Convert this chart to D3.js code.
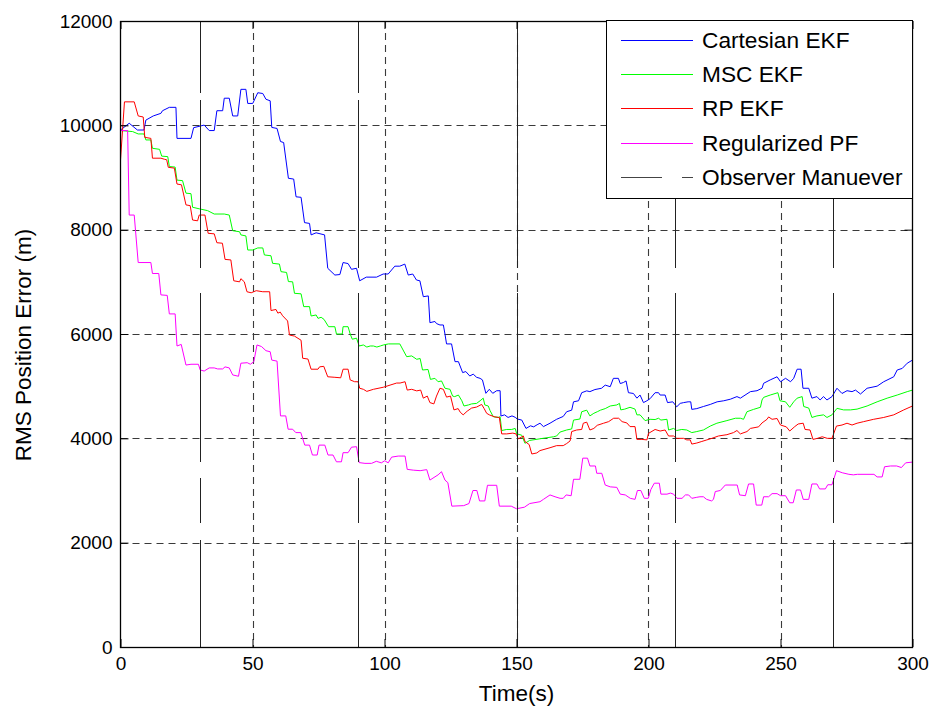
<!DOCTYPE html>
<html>
<head>
<meta charset="utf-8">
<script src="https://cdn.jsdelivr.net/npm/d3@7"></script>
<style>
    body { margin: 0; background: #fff; }
    text { font-family: "Liberation Sans", Arial, sans-serif; fill: #000; }
</style>
</head>
<body>
<div id="chart"></div>
<script>
// Series: time (s) and RMS position error (m)
var cartT = [0, 3.3, 6.4, 8.9, 9.6, 12.4, 15.3, 15.9, 18.5, 21, 21.4, 26.7, 27.7, 31.7, 33.6, 35.5, 36.5, 38.7, 39.3, 41.2,
    42.5, 44.4, 45.6, 47.5, 48.2, 50.1, 52, 53.9, 55.1, 56.7, 57.3, 59.3, 60.6, 61.8, 63.6, 65.6, 66.5, 68.4, 69.7, 71.6,
    72.2, 74.1, 77.3, 78.5, 81.2, 83.1, 84.3, 86.2, 87.5, 89.4, 90.6, 93.1, 97, 99.5, 101.4, 103.9, 105.8, 107.7, 109, 110.7,
    112.1, 113.4, 114.7, 116.6, 117.2, 119.1, 119.7, 121, 122.3, 122.9, 123.5, 125.4, 126.7, 128, 129.6, 130.8, 132.3, 133.6, 134.9, 136.2,
    137.1, 138.4, 139.7, 141, 142.5, 143.8, 144.1, 145.5, 146.8, 148.3, 149.5, 150.3, 152, 153.6, 155.3, 156.5, 157.8, 158.9, 160.2, 162.7,
    165.2, 167.7, 169, 170.9, 171.6, 173.5, 174.7, 176.6, 177.8, 179.7, 182.2, 183.6, 185.5, 186.7, 188.6, 189.3, 190.5, 191.5, 192.4, 194.3,
    195.6, 196.8, 198.1, 199.4, 200.6, 202.5, 203.8, 204.4, 206.3, 207.2, 209.2, 210.7, 212, 213.3, 215, 216, 216.4, 218.3, 220.8, 223.4,
    226, 228.5, 231, 233.5, 234.8, 238.6, 241.1, 243, 243.6, 246.1, 248.7, 250, 251.9, 253.8, 255, 256.3, 257.8, 258.5, 260.7, 261.9,
    263.8, 265, 266.3, 267.6, 269.5, 271.4, 273.3, 275.2, 277.1, 278.4, 280.3, 282.8, 286.6, 289.1, 292.9, 294.2, 296.1, 298, 300];
var cartV = [9910, 10040, 9910, 9910, 10100, 10180, 10230, 10280, 10345, 10345, 9750, 9750, 9955, 10005, 9900, 9900, 10280, 10280, 10520, 10520,
    10180, 10180, 10690, 10690, 10420, 10420, 10625, 10610, 10500, 10470, 9960, 9940, 9690, 9670, 8985, 8970, 8630, 8620, 8135, 8120,
    7900, 7940, 7900, 7260, 7130, 7140, 7370, 7350, 7240, 7260, 7020, 7090, 7090, 7150, 7150, 7300, 7300, 7340, 7130, 7150,
    7035, 7020, 6715, 6730, 6217, 6240, 6200, 6173, 6173, 6000, 5810, 5810, 5470, 5470, 5260, 5280, 5195, 5230, 5170, 5150,
    5120, 4863, 4940, 4863, 4913, 4913, 4428, 4450, 4400, 4430, 4403, 4370, 4350, 4190, 4240, 4220, 4260, 4290, 4225, 4290,
    4365, 4420, 4510, 4540, 4700, 4720, 4875, 4910, 4895, 4935, 4960, 5020, 4990, 5150, 5150, 5050, 5070, 5100, 4875, 4860,
    4770, 4830, 4685, 4720, 4760, 4875, 4875, 4830, 4830, 4685, 4700, 4605, 4670, 4685, 4700, 4700, 4555, 4570, 4610, 4650,
    4700, 4720, 4750, 4800, 4770, 4895, 4913, 4960, 5055, 5120, 5180, 5085, 5150, 5085, 5150, 5325, 5325, 4960, 4960, 4770,
    4800, 4735, 4800, 4735, 4800, 4960, 4860, 4913, 4895, 4925, 4850, 4960, 5000, 5085, 5180, 5310, 5340, 5440, 5500];

var mscT = [0, 4.6, 6.7, 8.9, 9.6, 11.5, 12.1, 14.8, 15.6, 17.9, 18.5, 20.7, 21.4, 23.5, 24.8, 26.7, 27.3, 29.8, 33, 35.5,
    39.3, 41.2, 42.5, 45.1, 45.6, 47.5, 48.2, 50.1, 52, 53.9, 54.5, 57, 57.6, 60.2, 60.8, 62.9, 63.6, 65.2, 65.9, 68.4,
    69.4, 71.6, 72.2, 74.1, 74.8, 76, 77.1, 78.8, 81.2, 81.8, 84, 84.3, 86.2, 87, 87.8, 89.4, 90.4, 92, 93.3, 94.6,
    95.8, 97.1, 98.4, 99.6, 101.5, 105.8, 108.4, 110.3, 112.2, 113.5, 114.4, 116.5, 117.4, 119.1, 120.3, 121.6, 122.9, 124.8, 125.8, 126.6,
    128, 129.3, 130.1, 131.8, 133, 134.9, 136.2, 137.4, 138, 139.3, 140, 141.2, 143.1, 143.8, 144.4, 146.3, 148.2, 149.5, 150.1, 152,
    153.2, 155, 160, 164, 165.2, 166.5, 169, 170.9, 171.6, 174, 174.7, 176.6, 177.8, 179.3, 180.6, 181.8, 183.6, 185.5, 188, 189,
    189.5, 191, 193, 194.9, 195.6, 196.8, 198.7, 200.6, 202.5, 203.8, 204.7, 207, 207.6, 209.5, 210.7, 212.6, 214.5, 216.4, 218.3, 220.8,
    223.4, 225.9, 229.7, 232.9, 234.8, 236, 237.3, 239.8, 242.4, 243, 243.6, 246.1, 249, 249.8, 251.9, 253.5, 255, 256.3, 258.2, 258.8,
    260.7, 261.9, 263.8, 266.3, 267.6, 269.5, 271.4, 273.9, 276.5, 279, 282.8, 286.6, 290.4, 294.2, 298, 300];
var mscV = [9900, 9880, 9835, 9835, 9720, 9720, 9560, 9540, 9410, 9400, 9210, 9200, 8950, 8940, 8700, 8690, 8430, 8400, 8365, 8300,
    8300, 8280, 7980, 7960, 7900, 7880, 7610, 7610, 7650, 7650, 7515, 7500, 7355, 7340, 7195, 7180, 7005, 7000, 6780, 6770,
    6525, 6525, 6345, 6365, 6300, 6320, 6280, 6140, 6140, 6000, 6000, 6140, 6140, 6000, 5900, 5920, 5770, 5790, 5750, 5770,
    5770, 5750, 5770, 5790, 5810, 5810, 5565, 5580, 5515, 5530, 5310, 5320, 5130, 5150, 5085, 5100, 4960, 4940, 4810, 4800,
    4830, 4720, 4620, 4640, 4660, 4670, 4720, 4770, 4640, 4620, 4530, 4415, 4400, 4415, 4150, 4170, 4170, 4190, 4085, 4060,
    3905, 3960, 4000, 4030, 4045, 4120, 4160, 4180, 4350, 4370, 4510, 4540, 4430, 4480, 4510, 4540, 4570, 4620, 4640, 4670,
    4545, 4560, 4595, 4560, 4450, 4450, 4340, 4365, 4360, 4385, 4350, 4365, 4160, 4190, 4150, 4170, 4160, 4110, 4130, 4160,
    4235, 4290, 4340, 4385, 4385, 4365, 4510, 4555, 4595, 4735, 4785, 4830, 4875, 4720, 4700, 4595, 4700, 4770, 4800, 4610,
    4580, 4400, 4430, 4450, 4400, 4450, 4575, 4545, 4545, 4560, 4620, 4700, 4770, 4830, 4895, 4925];

var rpT = [0, 1.5, 5.2, 6.7, 8.6, 9.2, 11.5, 12.1, 15.3, 16.6, 17.5, 18.1, 20.4, 21.4, 23.1, 24.8, 26.4, 27.3, 29.2, 29.8,
    32, 33.2, 35.5, 36.5, 38.6, 39.6, 41.8, 42.9, 45.1, 45.6, 46.9, 47.9, 49.5, 51.4, 53.9, 56.5, 57, 58.9, 59.6, 60.5,
    61.4, 63.3, 64, 65.9, 68.4, 69, 71, 72.2, 74.8, 75.4, 77, 78.5, 81.2, 83.4, 84.3, 86.2, 87, 88.7, 90, 90.6,
    92, 93.3, 95.8, 99.6, 102.1, 104.6, 105.9, 107.8, 108.6, 110.3, 112.2, 113.7, 114.7, 116.2, 117.2, 118.7, 119.7, 121, 122.3, 123.5,
    125, 126.3, 127.9, 128.7, 129.8, 131.3, 133, 134.9, 136.8, 137.7, 138.7, 139.7, 141.8, 143.5, 144.4, 146.3, 148.6, 149.8, 150.7, 152.6,
    153.2, 154.8, 155.8, 157.7, 158.9, 162.7, 165.2, 167.7, 169, 170.3, 170.9, 172.8, 174.7, 175.3, 176.6, 177.8, 179.3, 180.6, 183, 184.9,
    186.8, 188.7, 190, 191.8, 193, 194.9, 195.6, 197.5, 199.4, 200, 202.5, 204.4, 206.3, 207.6, 209.5, 210.7, 213.3, 214.5, 215.8, 216.4,
    218.3, 220.2, 222.1, 224, 226.5, 229.7, 232.2, 233.5, 234.8, 237.3, 238.6, 241.7, 243, 244.9, 245.5, 246.8, 248.7, 250, 252.2, 253.5,
    255.4, 256.7, 258.6, 259.3, 261.2, 262.3, 264, 265.8, 267.7, 269.5, 271.2, 273.3, 275.2, 277.1, 279, 281.5, 285.3, 289.1, 292.9, 296.7, 300];
var rpV = [9335, 10450, 10450, 10180, 10160, 9770, 9750, 9370, 9370, 9350, 9340, 9195, 9180, 8875, 8860, 8475, 8460, 8185, 8170, 8280,
    8280, 7930, 7920, 7750, 7740, 7430, 7420, 7020, 7000, 7060, 7000, 6810, 6790, 6830, 6810, 6810, 6450, 6470, 6400, 6420,
    6350, 6250, 5980, 5960, 5880, 5535, 5520, 5325, 5325, 5370, 5380, 5180, 5170, 5160, 5325, 5325, 5120, 5085, 5085, 4960,
    4940, 4900, 4940, 4980, 5020, 5060, 5060, 5085, 4925, 4940, 4910, 4925, 4770, 4810, 4685, 4660, 4810, 4960, 4940, 4790,
    4810, 4545, 4570, 4500, 4450, 4520, 4580, 4600, 4650, 4575, 4480, 4450, 4410, 4400, 4085, 4085, 4100, 4085, 3990, 4045,
    3940, 3880, 3700, 3720, 3765, 3820, 3860, 3860, 3900, 3950, 4130, 4160, 4170, 4290, 4310, 4160, 4190, 4250, 4290, 4320,
    4385, 4385, 4320, 4295, 4225, 4225, 3980, 3980, 3970, 4095, 4170, 4140, 4160, 4045, 4045, 4000, 4000, 3970, 3970, 3890,
    3910, 3940, 3970, 4000, 4045, 4070, 4110, 4150, 4085, 4130, 4190, 4220, 4295, 4365, 4410, 4365, 4380, 4255, 4220, 4140,
    4225, 4275, 4290, 4170, 4160, 3980, 4000, 4030, 4000, 4000, 4235, 4255, 4290, 4255, 4290, 4320, 4365, 4400, 4450, 4545, 4620];

var pfT = [0, 2.7, 3.3, 5.2, 6.7, 11.5, 12.1, 14.5, 15.3, 17.7, 18.5, 20.7, 21.4, 23, 24.8, 26.7, 29.5, 30.2, 31.7, 33.6,
    35.5, 36.8, 38.7, 39.6, 41.2, 42.5, 44.7, 45.6, 48, 49.2, 50.5, 51.7, 53.4, 55.1, 56.7, 57.3, 59.3, 60.6, 62.6, 63.5,
    65.2, 66.4, 68.3, 69.8, 71.6, 72.7, 74.5, 75.2, 77.4, 78.6, 80.5, 81.8, 83.7, 84.3, 86.2, 87.5, 89.4, 90.4, 92.6, 95.1,
    96.9, 98.8, 100.1, 101.4, 102.7, 105.2, 107.8, 108.6, 110.9, 113.5, 116, 117.2, 120.3, 121.6, 122.9, 124, 125.5, 130, 132, 133.5,
    135, 136, 138, 139, 142.5, 143.5, 148, 150, 153, 155, 158.9, 160.2, 162.7, 164.6, 166.5, 167.7, 168.8, 170.7, 171.6, 174,
    175.1, 176.9, 177.8, 179.9, 180.4, 182.3, 183.6, 185.5, 188, 189.3, 191.2, 193.1, 194.9, 195.8, 197.1, 198.4, 199.9, 200.9, 202.2, 204.1,
    204.7, 207, 208.3, 209.5, 210.8, 212.7, 214, 215.2, 216.4, 218.3, 219.5, 220.8, 222, 223.9, 224.6, 225.3, 227.2, 229.1, 233.6, 234.5,
    236.7, 237.9, 239.8, 240.8, 242.9, 243.6, 245.5, 246.8, 248.7, 250, 251.9, 253.5, 254.8, 256, 257.6, 258.6, 260.7, 261.9, 263.8, 264.8,
    267, 267.9, 269.5, 271.2, 273.4, 275.9, 277.6, 279.1, 285.4, 286.6, 288.5, 289.4, 291.7, 294, 295.8, 297.4, 300];
var pfV = [9900, 9900, 8280, 8280, 7370, 7370, 7160, 7160, 6750, 6740, 6385, 6385, 5770, 5800, 5405, 5420, 5420, 5310, 5290, 5350,
    5350, 5330, 5330, 5370, 5350, 5215, 5190, 5440, 5450, 5420, 5470, 5790, 5760, 5680, 5660, 5500, 5480, 4430, 4430, 4175,
    4175, 4110, 4110, 3870, 3870, 3680, 3680, 3870, 3870, 3680, 3680, 3550, 3550, 3725, 3725, 3830, 3840, 3535, 3520, 3520,
    3560, 3530, 3570, 3530, 3640, 3660, 3660, 3405, 3390, 3380, 3400, 3200, 3300, 3360, 3200, 3150, 2700, 2710, 2750, 3000,
    3000, 2800, 2800, 3100, 3100, 2700, 2700, 2650, 2680, 2750, 2785, 2830, 2915, 2880, 2850, 2850, 2915, 2900, 3215, 3215,
    3620, 3620, 3470, 3470, 3330, 3330, 3105, 3070, 3060, 2930, 2915, 2850, 2830, 3000, 3000, 2850, 2850, 3020, 3140, 3140,
    2930, 2930, 2950, 2930, 2850, 2850, 2915, 2915, 2850, 2870, 2880, 2880, 2830, 2800, 2830, 2980, 3000, 3105, 3105, 2915,
    2900, 3125, 3125, 2720, 2720, 2880, 2880, 2940, 2940, 2900, 2900, 2765, 2765, 3010, 3010, 2830, 2830, 3125, 3125, 3030,
    3030, 3110, 3110, 3380, 3340, 3310, 3300, 3310, 3310, 3260, 3260, 3455, 3470, 3470, 3440, 3530, 3545];

var maneuverTimes = [30, 90, 150, 210, 270];
var xTicks = [0, 50, 100, 150, 200, 250, 300];
var yTicks = [0, 2000, 4000, 6000, 8000, 10000, 12000];
var legendLabels = ["Cartesian EKF", "MSC EKF", "RP EKF", "Regularized PF", "Observer Manuever"];

var seriesList = [
    { t: cartT, v: cartV, color: "#0000ff" },
    { t: mscT, v: mscV, color: "#00ff00" },
    { t: rpT, v: rpV, color: "#ff0000" },
    { t: pfT, v: pfV, color: "#ff00ff" }
];

// Main svg and plot box
var width = 936, height = 714;
var plotLeft = 120.5, plotRight = 912.5, plotTop = 21, plotBottom = 647;

var svg = d3.select("#chart").append("svg")
    .attr("width", width)
    .attr("height", height);

var x = d3.scaleLinear().domain([0, 300]).range([plotLeft, plotRight]);
var y = d3.scaleLinear().domain([0, 12000]).range([plotBottom, plotTop]);

// grid
var grid = svg.append("g")
    .attr("stroke", "#3a3a3a")
    .attr("stroke-width", 1.1)
    .attr("stroke-dasharray", "7,5");
grid.selectAll(".gx")
    .data(xTicks.slice(1, -1))
    .enter().append("line")
    .attr("x1", d => Math.round(x(d)) + 0.5).attr("x2", d => Math.round(x(d)) + 0.5)
    .attr("y1", plotTop).attr("y2", plotBottom);
grid.selectAll(".gy")
    .data(yTicks.slice(1, -1))
    .enter().append("line")
    .attr("x1", plotLeft).attr("x2", plotRight)
    .attr("y1", d => Math.round(y(d)) + 0.5).attr("y2", d => Math.round(y(d)) + 0.5);

// data lines
var line = d3.line()
    .x(d => x(d[0]))
    .y(d => y(d[1]));

seriesList.forEach(s => {
    svg.append("path")
        .datum(d3.zip(s.t, s.v))
        .attr("fill", "none")
        .attr("stroke", s.color)
        .attr("stroke-width", 1)
        .attr("d", line);
});

// observer maneuver lines (long dashes with a few short gaps)
svg.selectAll(".maneuver")
    .data(maneuverTimes)
    .enter().append("line")
    .attr("class", "maneuver")
    .attr("x1", d => Math.round(x(d)) + 0.5).attr("x2", d => Math.round(x(d)) + 0.5)
    .attr("y1", plotTop).attr("y2", plotBottom)
    .attr("stroke", "#222")
    .attr("stroke-width", 1)
    .attr("stroke-dasharray", "72,7,168,25,169,16,45,17,110,0");

// axes, ticks pointing inwards
var fontSize = 19;
var fmt = d3.format("d");
var axisBottom = d3.axisBottom(x).tickValues(xTicks).tickFormat(fmt).tickSizeInner(-8).tickSizeOuter(0).tickPadding(10);
var axisLeft = d3.axisLeft(y).tickValues(yTicks).tickFormat(fmt).tickSizeInner(-8).tickSizeOuter(0).tickPadding(8);
var axisTop = d3.axisTop(x).tickValues(xTicks).tickSizeInner(-8).tickSizeOuter(0).tickFormat("");
var axisRight = d3.axisRight(y).tickValues(yTicks).tickSizeInner(-8).tickSizeOuter(0).tickFormat("");

[[axisBottom, "translate(0," + plotBottom + ")"],
 [axisLeft, "translate(" + plotLeft + ",0)"],
 [axisTop, "translate(0," + plotTop + ")"],
 [axisRight, "translate(" + plotRight + ",0)"]].forEach(a => {
    var g = svg.append("g").attr("transform", a[1]).call(a[0]);
    g.select(".domain").remove();
    g.selectAll("line").attr("stroke", "#000");
    g.selectAll("text")
        .attr("font-family", "Liberation Sans, Arial, sans-serif")
        .attr("font-size", fontSize)
        .attr("fill", "#000");
});

svg.append("rect")
    .attr("x", plotLeft).attr("y", plotTop + 0.5)
    .attr("width", plotRight - plotLeft).attr("height", plotBottom - plotTop)
    .attr("fill", "none")
    .attr("stroke", "#000")
    .attr("stroke-width", 1.3);

// axis labels
svg.append("text")
    .attr("x", (plotLeft + plotRight) / 2)
    .attr("y", 701)
    .attr("text-anchor", "middle")
    .attr("font-size", 22.5)
    .text("Time(s)");

svg.append("text")
    .attr("transform", "translate(31,345) rotate(-90)")
    .attr("text-anchor", "middle")
    .attr("font-size", 22.5)
    .text("RMS Position Error (m)");

// legend
var legend = svg.append("g");
legend.append("rect")
    .attr("x", 606.5).attr("y", 20.5)
    .attr("width", 306).attr("height", 178)
    .attr("fill", "#fff")
    .attr("stroke", "#000")
    .attr("stroke-width", 1);

var legendColors = seriesList.map(s => s.color).concat(["#444"]);
legendLabels.forEach((label, i) => {
    var cy = 40 + i * 34.2;
    legend.append("line")
        .attr("x1", 621).attr("x2", 693)
        .attr("y1", Math.round(cy) + 0.5).attr("y2", Math.round(cy) + 0.5)
        .attr("stroke", legendColors[i])
        .attr("stroke-width", 1)
        .attr("stroke-dasharray", i === 4 ? "41,20,12,20" : null);
    legend.append("text")
        .attr("x", 702)
        .attr("y", cy + 8)
        .attr("font-size", 22.7)
        .text(label);
});
</script>
</body>
</html>
